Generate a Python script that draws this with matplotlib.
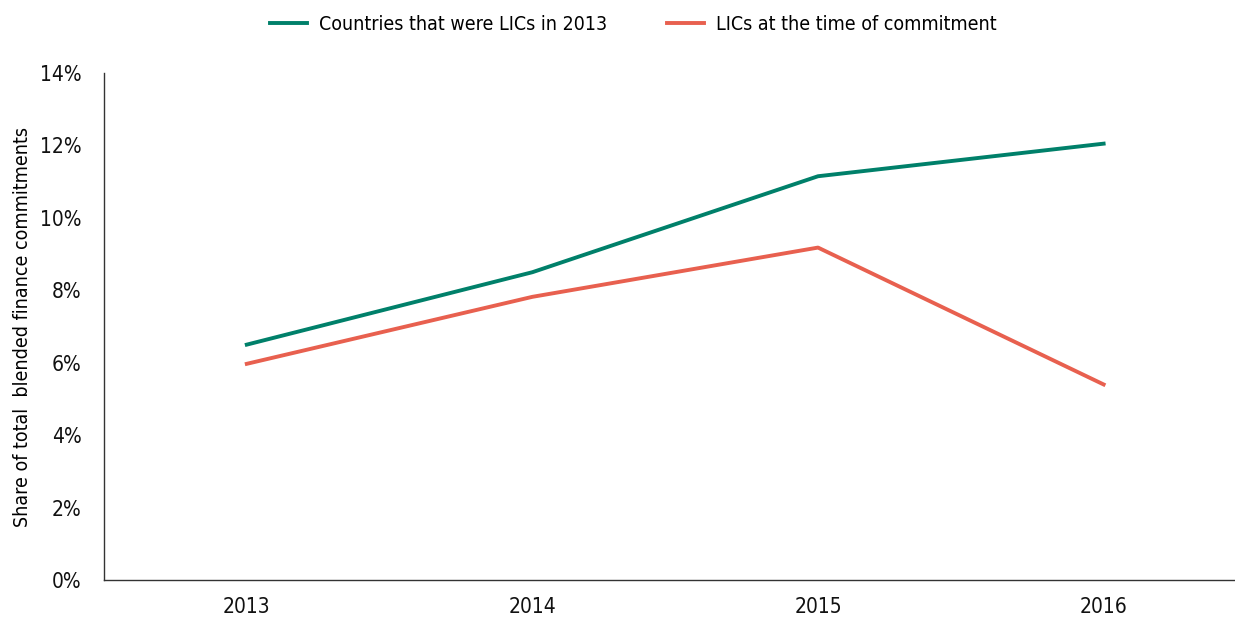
import matplotlib.pyplot as plt
from matplotlib.ticker import FuncFormatter

years = ["2013", "2014", "2015", "2016"]
lics_2013 = [6.5, 8.5, 11.15, 12.05]
lics_commit = [5.97, 7.82, 9.18, 5.4]

plt.rcParams['font.family'] = ['DejaVu Sans']
plt.rcParams['font.stretch'] = 'condensed'

fig = plt.figure(figsize=(12.35, 6.19), dpi=100)
ax = fig.add_axes([0.0842, 0.063, 0.9158, 0.819])

x = range(len(years))
ax.plot(x, lics_2013, color="#00806a", lw=2.8, label="Countries that were LICs in 2013")
ax.plot(x, lics_commit, color="#e8604f", lw=2.8, label="LICs at the time of commitment")

ax.set_xlim(-0.5, 3.46)
ax.set_ylim(0, 14)
ax.set_yticks(range(0, 15, 2))
ax.yaxis.set_major_formatter(FuncFormatter(lambda v, p: f"{v:.0f}%"))
ax.set_xticks(list(x))
ax.set_xticklabels(years)
ax.tick_params(length=0, labelsize=15, colors="#111111", pad=12)
ax.tick_params(axis="y", pad=16)
ax.set_ylabel("Share of total  blended finance commitments", fontsize=14, labelpad=6)

for s in ["top", "right"]:
    ax.spines[s].set_visible(False)
for s in ["left", "bottom"]:
    ax.spines[s].set_color("#333333")
    ax.spines[s].set_linewidth(1.0)

fig.legend(loc="upper center", bbox_to_anchor=(0.513, 0.995), ncol=2, frameon=False,
           fontsize=14, handlelength=1.9, handletextpad=0.6, columnspacing=3.1,
           borderaxespad=0.2)

fig.savefig("out.png", dpi=100)
